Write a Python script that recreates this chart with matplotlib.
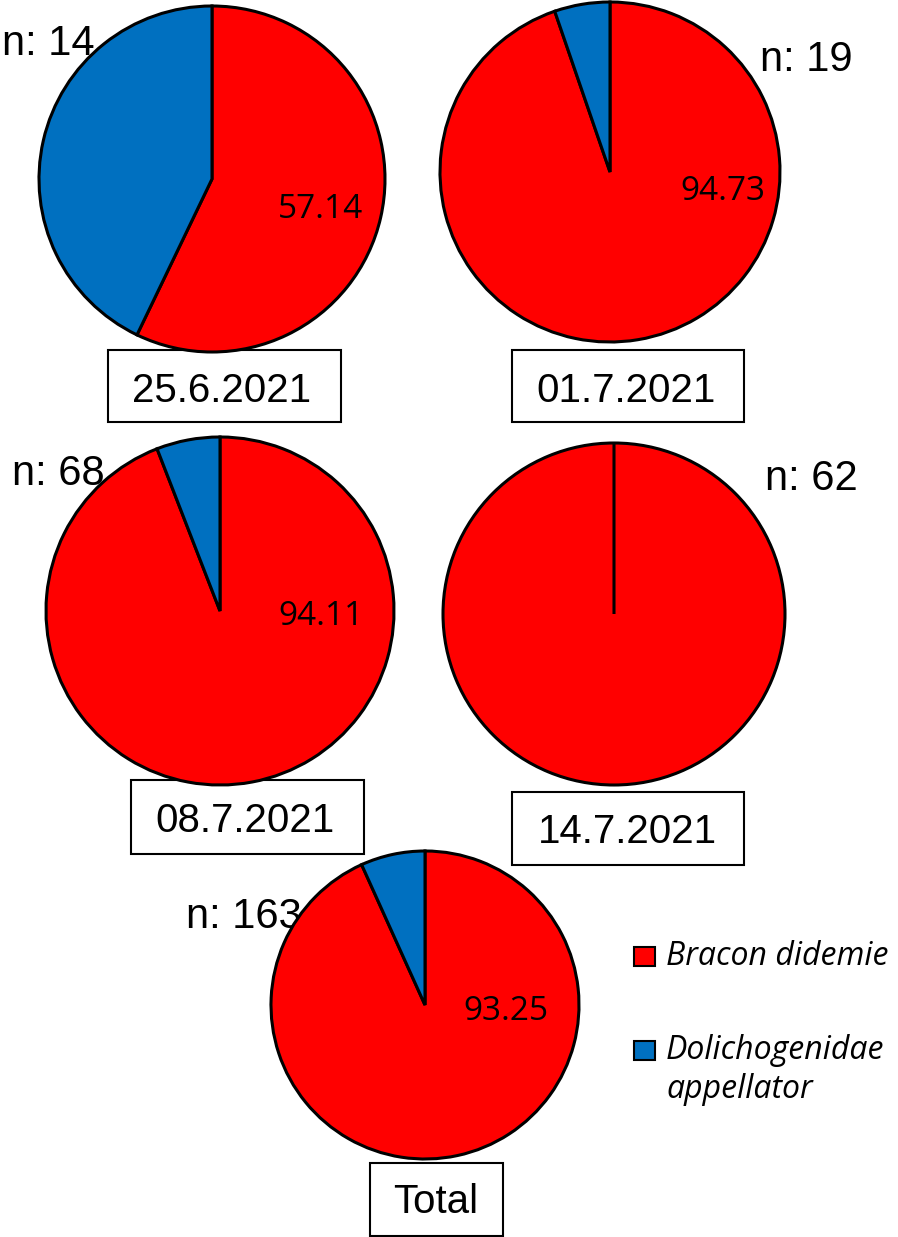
import matplotlib
matplotlib.use('Agg')
import matplotlib.pyplot as plt
import numpy as np
from matplotlib.patches import Rectangle

# Datos
dates = ['25.6.2021', '01.7.2021', '08.7.2021', '14.7.2021', 'Total']
n_vals = [14, 19, 68, 62, 163]
bracon = [57.14, 94.73, 94.11, 100.0, 93.25]
dolicho = [42.86, 5.27, 5.89, 0.0, 6.75]
species = ['Bracon didemie', 'Dolichogenidae\nappellator']
colors = ['#FF0000', '#0070C0']

W, H = 898, 1237

# Layout (pixels, origin at top-left)
centers = [(212, 179), (610, 172), (220, 611), (614, 614), (425, 1005)]
radii = [173, 170, 174, 171, 154]
pct_pos = [(320, 218), (723, 200), (321, 625), None, (506, 1020)]
n_pos = [(2, 55), (760, 71), (12, 485), (765, 490), (186, 928)]
boxes = [(108, 350, 233, 72), (512, 350, 232, 72), (131, 780, 233, 74),
         (512, 792, 232, 73), (370, 1163, 133, 73)]
date_base = [(222, 402), (626, 402), (245, 832), (627, 843), (436, 1213)]

fig = plt.figure(figsize=(W / 100, H / 100), dpi=100)
ax = fig.add_axes([0, 0, 1, 1])

for i in range(len(dates)):
    cx, cy = centers[i]
    vals = np.array([bracon[i], dolicho[i]])
    # tiny floor so a 100% slice keeps its radial edge at the top
    wedges, _ = ax.pie(np.clip(vals, 1e-9, None), colors=colors, startangle=90,
                       counterclock=False, center=(cx, H - cy), radius=radii[i],
                       wedgeprops=dict(edgecolor='black', linewidth=2.2))
    for w in wedges:
        w.set_zorder(2)

    if pct_pos[i] is not None:
        px, py = pct_pos[i]
        ax.text(px, H - py, f'{bracon[i]:.2f}', ha='center', va='baseline',
                fontsize=24, family='Open Sans', color='black', zorder=4)

    nx_, ny_ = n_pos[i]
    ax.text(nx_, H - ny_, f'n: {n_vals[i]}', ha='left', va='baseline',
            fontsize=30, family='Liberation Sans', color='black', zorder=1)

    bx, by, bw, bh = boxes[i]
    ax.add_patch(Rectangle((bx, H - by - bh), bw, bh, facecolor='white',
                           edgecolor='black', linewidth=1.5, zorder=1))
    tx, ty = date_base[i]
    ax.text(tx, H - ty, dates[i], ha='center', va='baseline',
            fontsize=29, family='Liberation Sans', color='black', zorder=4)

# Leyenda
leg_sq = [(634, 947), (634, 1041)]
leg_txt = [(666, 965), (666, 1059)]
for j in range(len(species)):
    sx, sy = leg_sq[j]
    ax.add_patch(Rectangle((sx, H - sy - 19), 21, 19, facecolor=colors[j],
                           edgecolor='black', linewidth=1.5))
    tx, ty = leg_txt[j]
    lines = species[j].split('\n')
    for k, line in enumerate(lines):
        ax.text(tx, H - ty - 39 * k, line, ha='left', va='baseline', fontsize=23,
                style='italic', family='Open Sans', color='black')

ax.set_xlim(0, W)
ax.set_ylim(0, H)
ax.set_aspect('equal')
ax.axis('off')

plt.savefig('out.png', dpi=100)
